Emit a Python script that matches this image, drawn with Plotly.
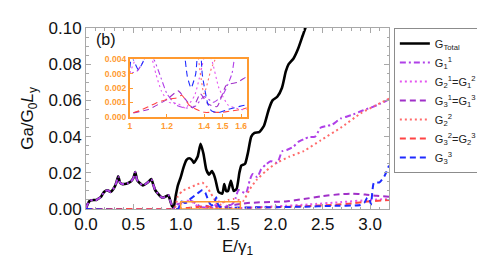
import plotly.graph_objects as go

# ---------------- data ----------------
tot_x = [0.00,0.02,0.04,0.08,0.11,0.14,0.16,0.19,0.23,0.26,0.30,0.32,0.34,0.36,0.38,0.41,0.44,0.47,0.50,0.52,0.54,0.57,0.60,0.63,0.66,0.69,0.71,0.73,0.76,0.79,0.81,0.84,0.87,0.89,0.91,0.925,
         0.95,0.97,1.00,1.03,1.06,1.09,1.12,1.14,1.16,1.18,1.21,1.24,1.27,1.30,1.33,1.35,1.37,1.40,1.44,1.46,1.48,1.50,1.53,1.56,1.59,1.62,1.64,1.68,1.71,1.745,1.78,1.83,1.88,1.93,1.97,2.02,2.07,2.11,2.14,2.19,2.24,2.29,2.33,2.36]
tot_y = [0.0005,0.003,0.0045,0.005,0.005,0.006,0.0068,0.0094,0.0103,0.0094,0.012,0.0145,0.018,0.0145,0.0138,0.0138,0.0142,0.015,0.017,0.0204,0.016,0.0142,0.013,0.0138,0.015,0.0165,0.0135,0.0105,0.0085,0.0068,0.0062,0.0068,0.0076,0.0045,0.0015,0.0005,
         0.008,0.013,0.0175,0.023,0.027,0.028,0.027,0.0254,0.027,0.029,0.036,0.0307,0.0218,0.019,0.021,0.019,0.0156,0.0094,0.0085,0.0138,0.010,0.010,0.0156,0.010,0.011,0.020,0.024,0.025,0.031,0.040,0.042,0.0425,0.046,0.055,0.060,0.062,0.067,0.076,0.080,0.083,0.0885,0.096,0.102,0.108]

g11_x = tot_x[:36] + [0.96,1.00,1.04,1.07,1.10,1.13,1.16,1.20,1.25,1.30,1.35,1.40,1.45,1.50,1.55,1.58,1.61,1.65,1.69,1.73,1.76,1.81,1.85,1.90,1.95,2.02,2.07,2.12,2.19,2.24,2.30,2.35,2.42,2.48,2.55,2.60,2.69,2.75,2.81,2.88,2.95,3.03,3.10,3.20]
g11_y = tot_y[:36] + [0.0025,0.003,0.0032,0.0038,0.0045,0.004,0.003,0.0016,0.0008,0.0006,0.0007,0.0014,0.001,0.0015,0.003,0.006,0.0105,0.0095,0.0087,0.016,0.0193,0.0176,0.022,0.0246,0.0264,0.0255,0.0318,0.0326,0.0344,0.037,0.0385,0.0397,0.040,0.045,0.046,0.0466,0.050,0.051,0.052,0.0535,0.055,0.0564,0.058,0.0605]

g21_x = [0.00,0.97,1.00,1.03,1.06,1.09,1.12,1.14,1.17,1.21,1.26,1.30,1.35,1.38,1.41,1.44,1.48,1.53,1.60,1.63,2.00,2.35,2.69,3.00,3.20]
g21_y = [0.0,0.0,0.003,0.004,0.0045,0.0045,0.004,0.003,0.0018,0.001,0.0009,0.0006,0.0015,0.003,0.0045,0.004,0.002,0.0008,0.0005,0.0005,0.0015,0.0025,0.0038,0.005,0.0055]

g31_x = [0.00,0.97,1.00,1.10,1.20,1.26,1.30,1.34,1.38,1.42,1.47,1.52,1.58,1.63,1.73,2.00,2.11,2.30,2.48,2.69,2.80,2.95,3.07,3.20]
g31_y = [0.0,0.0,0.0002,0.0005,0.0012,0.0018,0.0012,0.0006,0.0016,0.0009,0.0007,0.0022,0.0024,0.0028,0.0034,0.0040,0.0042,0.0055,0.0070,0.0082,0.0085,0.0080,0.0073,0.0068]

g22_x = [0.00,0.93,0.97,1.02,1.08,1.15,1.23,1.28,1.32,1.36,1.40,1.44,1.50,1.56,1.62,1.66,1.73,1.80,1.90,2.00,2.15,2.30,2.48,2.69,2.90,3.05,3.20]
g22_y = [0.0,0.0,0.007,0.010,0.0115,0.013,0.0145,0.012,0.0085,0.005,0.0016,0.0034,0.005,0.0055,0.005,0.0045,0.011,0.016,0.021,0.025,0.029,0.032,0.038,0.0449,0.0528,0.057,0.061]

g32_x = [0.00,0.97,1.00,1.05,1.10,1.15,1.20,1.25,1.28,1.32,1.36,1.40,1.45,1.50,1.55,1.60,1.63,2.00,2.30,2.62,2.83,2.95,3.20]
g32_y = [0.0,0.0,0.0002,0.0004,0.0007,0.001,0.0012,0.0013,0.0015,0.0008,0.0005,0.0003,0.0003,0.0003,0.0004,0.0005,0.0006,0.001,0.0015,0.0023,0.0032,0.004,0.005]

g33_x = [0.00,0.97,0.99,1.01,1.045,1.07,1.10,1.15,1.20,1.23,1.26,1.29,1.31,1.33,1.355,1.375,1.39,1.42,1.44,1.475,1.53,1.62,1.80,2.00,2.30,2.60,2.90,2.94,2.97,2.99,3.01,3.04,3.10,3.15,3.20]
g33_y = [0.0,0.0,0.002,0.0042,0.0033,0.0038,0.0055,0.0075,0.0095,0.0105,0.009,0.005,0.0028,0.002,0.003,0.0065,0.003,0.0009,0.0004,0.00027,0.0005,0.0008,0.0009,0.001,0.0013,0.0017,0.0022,0.0035,0.0062,0.006,0.0025,0.0145,0.0147,0.018,0.024]

names = ["G<sub>Total</sub>",
         "G<sub>1</sub><sup>1</sup>",
         "G<sub>2</sub><sup>1</sup>=G<sub>1</sub><sup>2</sup>",
         "G<sub>3</sub><sup>1</sup>=G<sub>1</sub><sup>3</sup>",
         "G<sub>2</sub><sup>2</sup>",
         "G<sub>3</sub><sup>2</sup>=G<sub>2</sub><sup>3</sup>",
         "G<sub>3</sub><sup>3</sup>"]

inset_xticks = [1, 1.2, 1.4, 1.5, 1.6]
inset_xtext = ["1", "1.2", "1.4", "1.5", "1.6"]
inset_yticks = [0, 0.001, 0.002, 0.003, 0.004]

# ---------------- styles ----------------
series = [
    (tot_x, tot_y, "black", None, 2.6),
    (g11_x, g11_y, "#B040E8", "6px,3px,2px,3px", 2.0),
    (g21_x, g21_y, "#E455F0", "2px,3px", 2.0),
    (g31_x, g31_y, "#A030C8", "6px,4px", 2.0),
    (g22_x, g22_y, "#FF6B6B", "2px,3px", 2.0),
    (g32_x, g32_y, "#FF4444", "6px,4px", 2.0),
    (g33_x, g33_y, "#1F2BFF", "6px,4px", 2.0),
]

ORANGE = "#FF9A30"
FRAME = "#A8A8A8"

fig = go.Figure()
for (xs, ys, col, dash, lw), nm in zip(series, names):
    fig.add_trace(go.Scatter(x=xs, y=ys, mode="lines", name=nm,
                             line=dict(color=col, width=lw, dash=dash or "solid",
                                       shape="spline", smoothing=0.5),
                             xaxis="x", yaxis="y"))
for (xs, ys, col, dash, lw), nm in list(zip(series, names))[1:]:
    fig.add_trace(go.Scatter(x=xs, y=ys, mode="lines", name=nm, showlegend=False,
                             line=dict(color=col, width=1.1, dash=dash or "solid",
                                       shape="spline", smoothing=0.5),
                             xaxis="x2", yaxis="y2"))

# orange rectangle in the main plot marking the inset region
fig.add_shape(type="rect", xref="x", yref="y", x0=1.0, x1=1.63, y0=0.0, y1=0.004,
              line=dict(color=ORANGE, width=1.5))

fig.add_annotation(text="(b)", xref="paper", yref="paper", x=0.025, y=0.935,
                   xanchor="left", yanchor="middle", showarrow=False,
                   font=dict(size=16, color="#111"))

tickfont = dict(family="Liberation Sans, Arial, sans-serif", size=17, color="#111")
fig.update_layout(
    width=485, height=263,
    margin=dict(l=78, r=96, t=11, b=62),
    paper_bgcolor="white", plot_bgcolor="white",
    font=dict(family="Liberation Sans, Arial, sans-serif", color="#111"),
    xaxis=dict(domain=[0, 1], range=[0, 3.2], dtick=0.5, tickformat=".1f",
               showgrid=False, zeroline=False, showline=True, mirror="allticks",
               linecolor=FRAME, linewidth=1, ticks="inside", ticklen=5, tickcolor=FRAME,
               minor=dict(dtick=0.1, ticks="inside", ticklen=2.5, tickcolor=FRAME),
               tickfont=tickfont,
               title=dict(text="E/γ<sub>1</sub>", font=dict(size=17), standoff=6)),
    yaxis=dict(domain=[0, 1], range=[0, 0.1], dtick=0.02, tickformat=".2f",
               showgrid=False, zeroline=False, showline=True, mirror="allticks",
               linecolor=FRAME, linewidth=1, ticks="inside", ticklen=5, tickcolor=FRAME,
               minor=dict(dtick=0.005, ticks="inside", ticklen=2.5, tickcolor=FRAME),
               tickfont=tickfont,
               title=dict(text="Ga/G<sub>0</sub><i>L</i><sub>y</sub>", font=dict(size=17), standoff=10)),
    xaxis2=dict(domain=[0.1447, 0.5305], anchor="y2", range=[1, 1.63],
                tickvals=inset_xticks, ticktext=inset_xtext,
                showgrid=False, zeroline=False, showline=True, mirror=True,
                linecolor=ORANGE, linewidth=2, ticks="inside", ticklen=3, tickcolor=ORANGE,
                tickfont=dict(size=8.5, color=ORANGE, weight="bold")),
    yaxis2=dict(domain=[0.5105, 0.826], anchor="x2", range=[0, 0.004],
                tickvals=inset_yticks, tickformat=".3f",
                showgrid=False, zeroline=False, showline=True, mirror=True,
                linecolor=ORANGE, linewidth=2, ticks="inside", ticklen=3, tickcolor=ORANGE,
                tickfont=dict(size=8.5, color=ORANGE, weight="bold")),
    legend=dict(x=1.016, y=1.0, xanchor="left", yanchor="top",
                bgcolor="white", bordercolor="#8C8C8C", borderwidth=1,
                font=dict(size=11, color="#222"), itemwidth=30, tracegroupgap=0),
    showlegend=True,
)

fig.write_html("out.html")
